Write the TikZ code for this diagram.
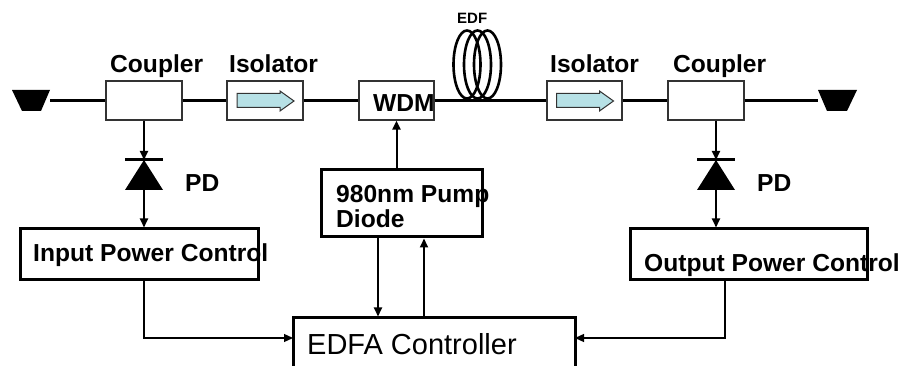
\documentclass[tikz,border=0pt]{standalone}
\usepackage{fontspec}
\setmainfont{Liberation Sans}
\usetikzlibrary{arrows.meta}
\definecolor{isoblue}{RGB}{183,225,230}
\begin{document}
\begin{tikzpicture}[x=1pt,y=-1pt,
 optbox/.style={draw=black!80, line width=1.2pt, fill=white, inner sep=0pt},
 ctlbox/.style={draw=black, line width=3pt, inner sep=0pt},
 fiber/.style={line width=3pt},
 sig/.style={line width=2pt, -{Triangle[length=9pt,width=8pt]}},
 thinsig/.style={line width=1.3pt, -{Triangle[length=9pt,width=8pt]}},
 lbl/.style={font=\fontsize{24.6}{25}\selectfont\bfseries, inner sep=0pt, anchor=base west},
 isoarrow/.style={draw=black!80, line width=1pt, fill=isoblue},
 diode/.style={fill=black},
 coil/.style={line width=2.6pt},
 plug/.style={fill=black},
]
\useasboundingbox (0,0) rectangle (903,366);
\clip (0,0) rectangle (903,366);

% fibre connectors
\fill[plug] (12,90) -- (50,90) -- (41,111) -- (22,111) -- cycle;
\coordinate (inL) at (50,100.5);
\fill[plug] (818,90) -- (857,90) -- (847,111) -- (827,111) -- cycle;
\coordinate (outR) at (818,100.5);

% optical boxes
\node[optbox, minimum width=76pt, minimum height=39pt] (c1) at (144,100.5) {};
\node[optbox, minimum width=76pt, minimum height=39pt] (iso1) at (265,100.5) {};
\node[optbox, minimum width=75pt, minimum height=39pt] (wdm) at (396.5,100.5) {};
\node[optbox, minimum width=75pt, minimum height=39pt] (iso2) at (584.5,100.5) {};
\node[optbox, minimum width=76pt, minimum height=39pt] (c2) at (706,100.5) {};

% fibre line
\draw[fiber] (inL) -- (c1.west);
\draw[fiber] (c1.east) -- (iso1.west);
\draw[fiber] (iso1.east) -- (wdm.west);
\draw[fiber] (wdm.east) -- (iso2.west);
\draw[fiber] (iso2.east) -- (c2.west);
\draw[fiber] (c2.east) -- (outR);

% EDF coil
\draw[coil] (467,64.5) ellipse [x radius=13.5, y radius=34];
\draw[coil] (477.5,64.5) ellipse [x radius=13.5, y radius=34];
\draw[coil] (487.5,64.5) ellipse [x radius=13.5, y radius=34];

% isolator arrows
\foreach \n in {iso1,iso2}{
 \draw[isoarrow, shift={(\n.center)}] (-28,-7) -- (15,-7) -- (15,-9.5) -- (29,0.5) -- (15,10.5) -- (15,7) -- (-28,7) -- cycle;
}

% control boxes
\node[ctlbox, minimum width=238pt, minimum height=51pt] (ipc) at (139,254.5) {};
\node[ctlbox, minimum width=161pt, minimum height=67pt] (pump) at (401.5,203.5) {};
\node[ctlbox, minimum width=237pt, minimum height=51pt] (opc) at (748.5,254.5) {};
\node[ctlbox, minimum width=282pt, minimum height=100pt] (edfa) at (434,368) {};

% photodiodes
\coordinate (d1top) at (144,160);
\coordinate (d1bot) at (144,190);
\fill[diode] (125,190) -- (163,190) -- (d1top) -- cycle;
\draw[line width=3pt] (125,160) -- (163,160);
\coordinate (d2top) at (716,160);
\coordinate (d2bot) at (716,190);
\fill[diode] (697,190) -- (735,190) -- (d2top) -- cycle;
\draw[line width=3pt] (697,160) -- (735,160);

% signal connections
\draw[sig] (c1.south -| d1top) -- (d1top);
\draw[sig] (d1bot) -- (ipc.north -| d1bot);
\draw[sig] (c2.south -| d2top) -- (d2top);
\draw[sig] (d2bot) -- (opc.north -| d2bot);
\draw[sig] (pump.north -| wdm.south) -- (wdm.south);
\coordinate (dn) at (378,0);
\coordinate (up) at (424,0);
\draw[sig] (pump.south -| dn) -- (edfa.north -| dn);
\draw[sig] (edfa.north -| up) -- (pump.south -| up);
\coordinate (ein) at (293,338);
\coordinate (eout) at (575,338);
\coordinate (oturn) at (725,0);
\draw[thinsig] (ipc.south -| d1top) |- (ein);
\draw[thinsig] (opc.south -| oturn) |- (eout);

% labels
\node[lbl] (tc1) at (110,73) {Coupler};
\node[lbl] (ti1) at (229,73) {Isolator};
\node[lbl] (ti2) at (550,73) {Isolator};
\node[lbl] (tc2) at (673,73) {Coupler};
\node[lbl] (twdm) at (373,112) {WDM};
\node[lbl] (tpd1) at (185,192) {PD};
\node[lbl] (tpd2) at (757,192) {PD};
\node[lbl] (tipc) at (33,262) {Input Power Control};
\node[lbl] (topc) at (644,272) {Output Power Control};
\node[lbl] (tp1) at (336,203) {980nm Pump};
\node[lbl] (tp2) at (336,228) {Diode};
\node[font=\fontsize{15}{15}\selectfont\bfseries, anchor=base west, inner sep=0pt] (tedf) at (457,24) {EDF};
\node[font=\fontsize{29}{29}\selectfont, anchor=base west, inner sep=0pt] (tedfa) at (307,355) {EDFA Controller};
\end{tikzpicture}
\end{document}
